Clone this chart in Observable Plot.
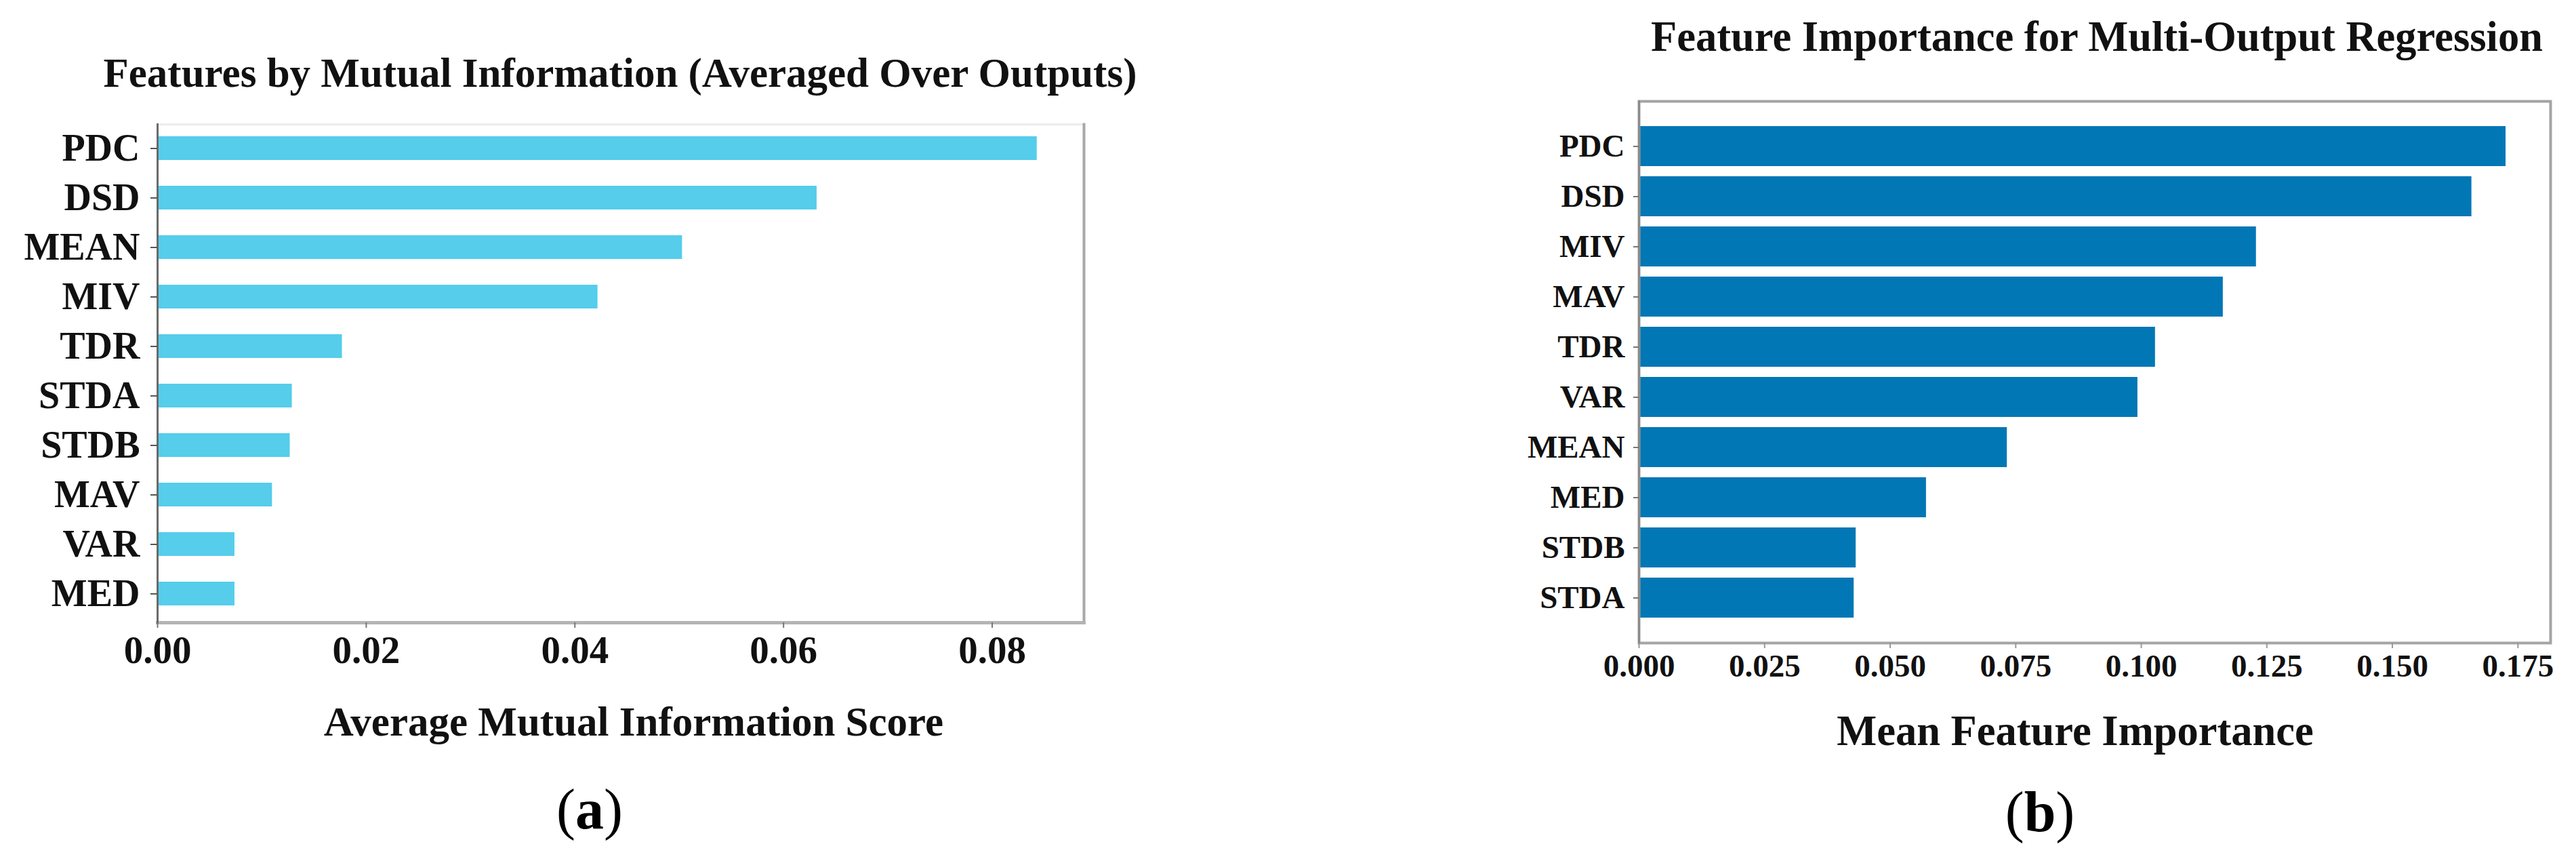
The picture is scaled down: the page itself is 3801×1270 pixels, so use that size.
<!DOCTYPE html>
<html>
<head>
<meta charset="utf-8">
<script src="https://cdn.jsdelivr.net/npm/d3@7"></script>
<script src="https://cdn.jsdelivr.net/npm/@observablehq/plot@0.6"></script>
<style>
  html, body { margin: 0; padding: 0; background: #fff; }
  #page { position: relative; width: 3801px; height: 1270px; overflow: hidden; background: #fff; }
  .panel { position: absolute; top: 0; }
  #overlay { position: absolute; left: 0; top: 0; }
</style>
</head>
<body>
<div id="page"></div>
<script>
// ---- Panel (a): mutual information ----
const miFeatures = ["PDC", "DSD", "MEAN", "MIV", "TDR", "STDA", "STDB", "MAV", "VAR", "MED"];
const miScores   = [0.0843, 0.0632, 0.0503, 0.0422, 0.0177, 0.0129, 0.0127, 0.0110, 0.0074, 0.0074];
const miTicks    = [0, 0.02, 0.04, 0.06, 0.08];
const miTitle    = "Features by Mutual Information (Averaged Over Outputs)";
const miXLabel   = "Average Mutual Information Score";

// ---- Panel (b): feature importance ----
const fiFeatures = ["PDC", "DSD", "MIV", "MAV", "TDR", "VAR", "MEAN", "MED", "STDB", "STDA"];
const fiScores   = [0.1726, 0.1658, 0.1229, 0.1163, 0.1028, 0.0993, 0.0733, 0.0572, 0.0432, 0.0428];
const fiTicks    = [0, 0.025, 0.05, 0.075, 0.1, 0.125, 0.15, 0.175];
const fiTitle    = "Feature Importance for Multi-Output Regression";
const fiXLabel   = "Mean Feature Importance";

const panelTags  = ["a", "b"];

const serif = '"Liberation Serif", "Times New Roman", Times, serif';
const page = document.getElementById("page");

const miData = miFeatures.map((f, i) => ({feature: f, score: miScores[i]}));
const fiData = fiFeatures.map((f, i) => ({feature: f, score: fiScores[i]}));

const left = Plot.plot({
  width: 1700, height: 1270,
  marginLeft: 232, marginRight: 101, marginTop: 183, marginBottom: 352,
  style: {fontFamily: serif, fontWeight: "bold", color: "#111", background: "transparent", overflow: "visible"},
  x: {domain: [0, 0.0888]},
  y: {type: "band", domain: miFeatures, paddingInner: 0.526, paddingOuter: 0.236, align: 0.42},
  marks: [
    Plot.barX(miData, {x: "score", y: "feature", fill: "#55cdeb"}),
    Plot.frame({anchor: "top", stroke: "#ececec", strokeWidth: 3}),
    Plot.frame({anchor: "right", stroke: "#a8a8a8", strokeWidth: 4}),
    Plot.frame({anchor: "bottom", stroke: "#b4b4b4", strokeWidth: 5}),
    Plot.frame({anchor: "left", stroke: "#6a6a6a", strokeWidth: 3}),
    Plot.axisX({ticks: miTicks, tickFormat: ".2f", tickSize: 8, tickPadding: 11, fontSize: 57, fontWeight: "bold", fill: "#111", stroke: "#777", strokeWidth: 2, label: null}),
    Plot.axisY({tickSize: 10, tickPadding: 16, fontSize: 56, fontWeight: "bold", fill: "#111", stroke: "#555", strokeWidth: 2, label: null})
  ]
});
left.classList.add("panel");
left.style.left = "0px";
page.appendChild(left);

const right = Plot.plot({
  width: 1901, height: 1270,
  marginLeft: 518, marginRight: 38, marginTop: 149, marginBottom: 322,
  style: {fontFamily: serif, fontWeight: "bold", color: "#111", background: "transparent", overflow: "visible"},
  x: {domain: [0, 0.1815]},
  y: {type: "band", domain: fiFeatures, paddingInner: 0.206, paddingOuter: 0.478, align: 0.5},
  marks: [
    Plot.barX(fiData, {x: "score", y: "feature", fill: "#0277b6"}),
    Plot.frame({stroke: "#a4a4a4", strokeWidth: 4}),
    Plot.frame({anchor: "left", stroke: "#8a8a8a", strokeWidth: 3}),
    Plot.axisX({ticks: fiTicks, tickFormat: ".3f", tickSize: 8, tickPadding: 8, fontSize: 47, fontWeight: "bold", fill: "#111", stroke: "#999", strokeWidth: 2, label: null}),
    Plot.axisY({tickSize: 8, tickPadding: 13, fontSize: 47, fontWeight: "bold", fill: "#111", stroke: "#777", strokeWidth: 2, label: null})
  ]
});
right.classList.add("panel");
right.style.left = "1900px";
page.appendChild(right);

// ---- titles, axis titles and panel tags ----
const svg = d3.select(page).append("svg")
  .attr("id", "overlay")
  .attr("width", 3801).attr("height", 1270)
  .attr("font-family", serif)
  .attr("fill", "#111");

const texts = [
  {t: miTitle,  x: 915,  y: 128,  s: 61},
  {t: fiTitle,  x: 3094, y: 75,   s: 62.5},
  {t: miXLabel, x: 935,  y: 1085, s: 61},
  {t: fiXLabel, x: 3062, y: 1099, s: 62.5}
];
for (const d of texts) {
  svg.append("text").attr("x", d.x).attr("y", d.y).attr("text-anchor", "middle")
    .attr("font-size", d.s).attr("font-weight", "bold").text(d.t);
}
const tagPos = [{x: 870, y: 1222}, {x: 3010, y: 1226}];
panelTags.forEach((tag, i) => {
  const t = svg.append("text").attr("x", tagPos[i].x).attr("y", tagPos[i].y)
    .attr("text-anchor", "middle").attr("font-size", 84).attr("fill", "#000");
  t.append("tspan").text("(");
  t.append("tspan").attr("font-weight", "bold").text(tag);
  t.append("tspan").text(")");
});
</script>
</body>
</html>
